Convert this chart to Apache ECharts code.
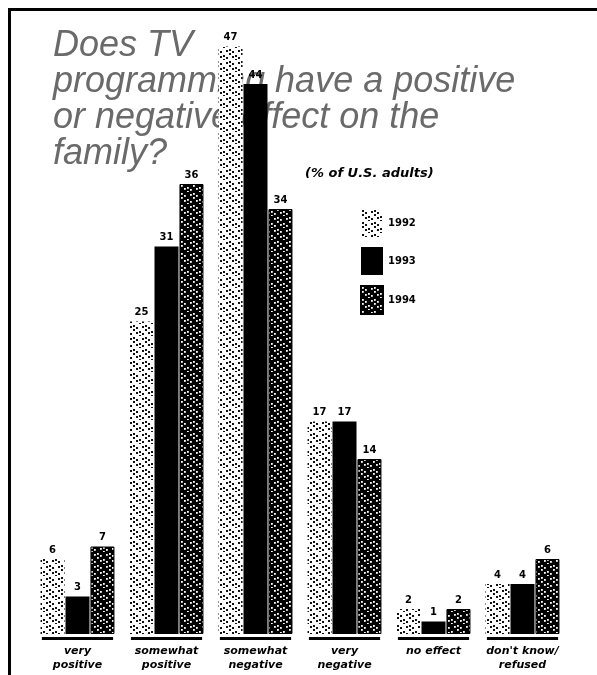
<!DOCTYPE html>
<html>
<head>
<meta charset="utf-8">
<script src="https://cdn.jsdelivr.net/npm/echarts@6/dist/echarts.min.js"></script>
<style>
  html, body { margin: 0; padding: 0; background: #fff; }
  #chart { width: 597px; height: 675px; }
</style>
</head>
<body>
<div id="chart"></div>
<script>
const categories = ['very\npositive', 'somewhat\npositive', 'somewhat\nnegative', 'very\nnegative', 'no effect', "don't know/\nrefused"];
const years = ['1992', '1993', '1994'];
const values1992 = [6, 25, 47, 17, 2, 4];
const values1993 = [3, 31, 44, 17, 1, 4];
const values1994 = [7, 36, 34, 14, 2, 6];

function makePattern(bg, fg, dots, w, h, s) {
  const c = document.createElement('canvas');
  c.width = w; c.height = h;
  const ctx = c.getContext('2d');
  ctx.fillStyle = bg; ctx.fillRect(0, 0, w, h);
  ctx.fillStyle = fg;
  dots.forEach(function (d) { ctx.fillRect(d[0], d[1], s, s); });
  return c;
}
const dotLayout = [[1, 1], [4, 3], [1, 5], [7, 7], [10, 9], [7, 11], [4, 8], [10, 2]];
const pat1992 = makePattern('#ffffff', '#111111', dotLayout, 12, 12, 2);
const pat1994 = makePattern('#000000', '#ffffff', dotLayout, 12, 12, 1.8);

const chart = echarts.init(document.getElementById('chart'));

const labelStyle = {
  show: true, position: 'top', distance: 4,
  fontFamily: 'DejaVu Sans', fontWeight: 'bold', fontSize: 10, color: '#000'
};

const option = {
  animation: false,
  backgroundColor: '#fff',
  title: [{
    text: 'Does TV\nprogramming have a positive\nor negative effect on the\nfamily?',
    left: 48, top: 23, z: 0,
    textStyle: {
      fontFamily: 'Liberation Sans', fontStyle: 'italic', fontWeight: 'normal',
      fontSize: 36, lineHeight: 36, color: '#6a6a6a'
    }
  }, {
    text: '(% of U.S. adults)',
    left: 300, top: 162, z: 0,
    textStyle: {
      fontFamily: 'DejaVu Sans', fontStyle: 'italic', fontWeight: 'bold',
      fontSize: 13, color: '#000'
    }
  }],
  legend: {
    orient: 'vertical', left: 355, top: 204,
    icon: 'rect',
    itemWidth: 22, itemHeight: 28, itemGap: 10,
    data: years,
    textStyle: { fontFamily: 'DejaVu Sans', fontWeight: 'bold', fontSize: 10, color: '#000', padding: [4, 0, 0, 0] }
  },
  grid: { left: 33, right: 30, top: 9, bottom: 41, containLabel: false },
  xAxis: {
    type: 'category', data: categories,
    axisLine: { show: false }, axisTick: { show: false },
    axisLabel: {
      interval: 0, margin: 10,
      fontFamily: 'DejaVu Sans', fontStyle: 'italic', fontWeight: 'bold',
      fontSize: 11, lineHeight: 14, color: '#000'
    }
  },
  yAxis: { type: 'value', min: 0, max: 50, show: false, splitLine: { show: false } },
  series: [{
    name: '1992', type: 'bar', data: values1992, barWidth: 24, barGap: '4%',
    itemStyle: { color: { image: pat1992, repeat: 'repeat' } },
    label: labelStyle
  }, {
    name: '1993', type: 'bar', data: values1993, barWidth: 24, barGap: '4%',
    itemStyle: { color: '#000' },
    label: labelStyle
  }, {
    name: '1994', type: 'bar', data: values1994, barWidth: 24, barGap: '4%',
    itemStyle: { color: { image: pat1994, repeat: 'repeat' }, borderColor: '#000', borderWidth: 1 },
    label: labelStyle
  }, {
    name: 'baseline', type: 'custom',
    data: categories.map(function (c, i) { return [i, 0]; }),
    encode: { x: 0, y: 1 },
    silent: true,
    renderItem: function (params, api) {
      const p = api.coord([api.value(0), 0]);
      const bw = api.size([1, 0])[0] * 0.8;
      return {
        type: 'rect',
        shape: { x: p[0] - bw / 2, y: p[1] + 3, width: bw, height: 3 },
        style: { fill: '#000' }
      };
    }
  }],
  graphic: [
    { type: 'rect', shape: { x: 8, y: 8, width: 589, height: 3 }, style: { fill: '#000' } },
    { type: 'rect', shape: { x: 8, y: 8, width: 3, height: 667 }, style: { fill: '#000' } }
  ]
};
chart.setOption(option);
</script>
</body>
</html>
